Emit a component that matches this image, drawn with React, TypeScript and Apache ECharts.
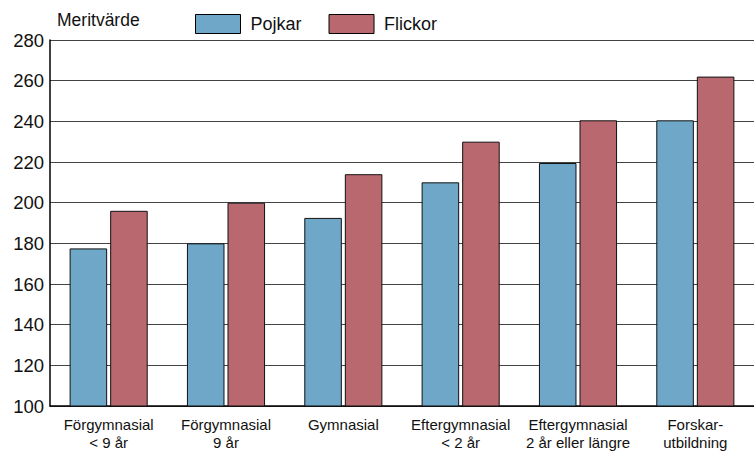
import React, { useEffect, useRef } from "react";
import * as echarts from "echarts";

const categories = [
  "Förgymnasial\n< 9 år",
  "Förgymnasial\n9 år",
  "Gymnasial",
  "Eftergymnasial\n< 2 år",
  "Eftergymnasial\n2 år eller längre",
  "Forskar-\nutbildning",
];
const pojkar = [177.5, 180, 192.5, 210, 219.5, 240.5];
const flickor = [196, 200, 214, 230, 240.5, 262];
const yTicks = { min: 100, max: 280, interval: 20 };

export default function App() {
  const ref = useRef<HTMLDivElement>(null);
  useEffect(() => {
    const chart = echarts.init(ref.current!, null, { renderer: "svg" });
    chart.setOption({
      animation: false,
      backgroundColor: "#fff",
      textStyle: { fontFamily: "Liberation Sans, Arial, sans-serif" },
      grid: { left: 50, right: 0, top: 40, bottom: 46 },
      graphic: [
        {
          type: "text",
          left: 57,
          top: 11,
          style: { text: "Meritvärde", fontSize: 17.5, fill: "#111", fontFamily: "Liberation Sans, Arial, sans-serif" },
        },
      ],
      legend: {
        left: 190,
        top: 9,
        itemWidth: 45,
        itemHeight: 19,
        itemGap: 27,
        icon: "rect",
        itemStyle: { borderColor: "#000", borderWidth: 1 },
        textStyle: { fontSize: 18, color: "#111", padding: [0, 0, 0, 5] },
        data: ["Pojkar", "Flickor"],
      },
      xAxis: {
        type: "category",
        data: categories,
        axisLine: { show: true, lineStyle: { color: "#000", width: 1.5 } },
        axisTick: { show: false },
        axisLabel: {
          fontSize: 15,
          color: "#111",
          margin: 9,
          lineHeight: 18,
          interval: 0,
          fontFamily: "'Liberation Sans Narrow', 'Arial Narrow', sans-serif",
        },
      },
      yAxis: {
        type: "value",
        min: yTicks.min,
        max: yTicks.max,
        interval: yTicks.interval,
        axisLine: { show: true, lineStyle: { color: "#000", width: 1.5 } },
        axisTick: { show: false },
        axisLabel: { fontSize: 18.5, color: "#111", margin: 6 },
        splitLine: { show: true, lineStyle: { color: "#444", width: 1 } },
      },
      series: [
        {
          name: "Pojkar",
          type: "bar",
          data: pojkar,
          barWidth: "32%",
          barGap: "8%",
          itemStyle: { color: "#6fa7c8", borderColor: "#111", borderWidth: 1 },
        },
        {
          name: "Flickor",
          type: "bar",
          data: flickor,
          barWidth: "32%",
          itemStyle: { color: "#ba6870", borderColor: "#111", borderWidth: 1 },
        },
      ],
    });
    return () => chart.dispose();
  }, []);
  return <div ref={ref} style={{ width: 754, height: 452, position: "absolute", left: 0, top: 0 }} />;
}
